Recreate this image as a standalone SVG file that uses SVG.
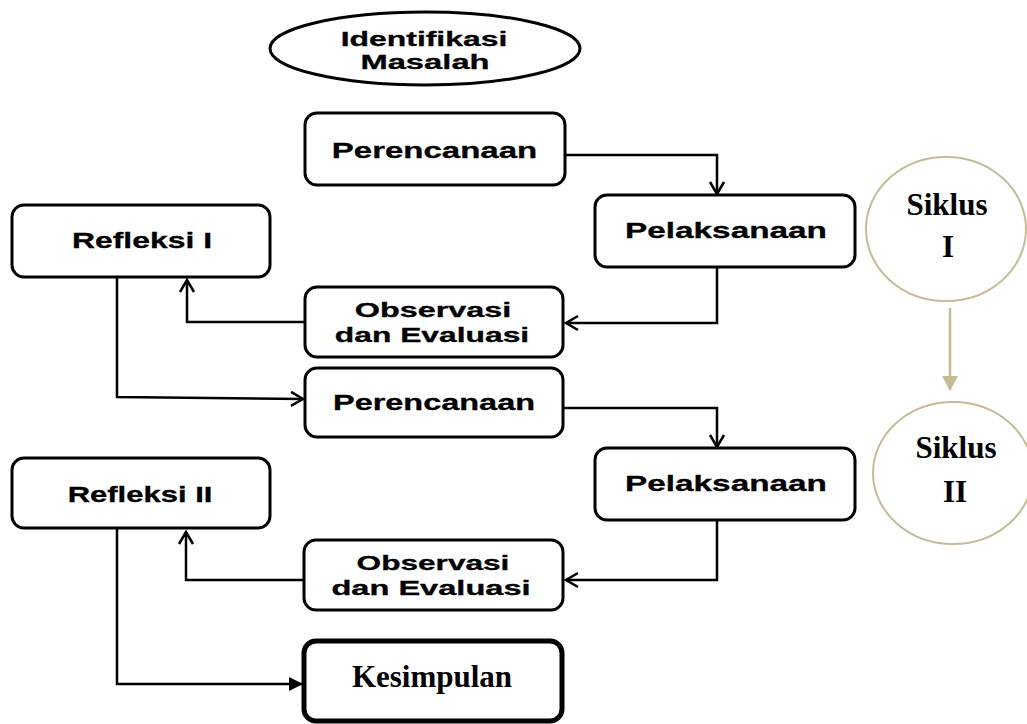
<svg xmlns="http://www.w3.org/2000/svg" width="1027" height="724" viewBox="0 0 1027 724">
<style>
.box{fill:#fff;stroke:#000;stroke-width:3}
.bold{stroke-width:5}
.t{font-family:"Liberation Sans",Arial,sans-serif;font-weight:bold;font-size:22px;fill:#000;stroke:#000;stroke-width:0.3;text-anchor:middle}
.s{font-size:20px}
.m{font-size:21px}
.tt{font-family:"Liberation Serif","Times New Roman",serif;font-weight:bold;font-size:31px;fill:#000;text-anchor:middle}
.c{fill:none;stroke:#000;stroke-width:2.5}
.cyc{fill:#fff;stroke:#c6bb97;stroke-width:2}
</style>
<defs>
<marker id="open" markerUnits="userSpaceOnUse" markerWidth="16" markerHeight="18" refX="13" refY="8" orient="auto" viewBox="0 0 16 16">
<path d="M1,1 L13,8 L1,15" fill="none" stroke="#000" stroke-width="2.5"/>
</marker>
<marker id="solid" markerUnits="userSpaceOnUse" markerWidth="14" markerHeight="16" refX="13" refY="8" orient="auto" viewBox="0 0 14 16">
<path d="M0,1 L14,8 L0,15 Z" fill="#000"/>
</marker>
<marker id="tan" markerUnits="userSpaceOnUse" markerWidth="16" markerHeight="18" refX="14" refY="9" orient="auto" viewBox="0 0 16 18">
<path d="M0,1 L15,9 L0,17 Z" fill="#c6bb97"/>
</marker>
</defs>

<g id="connectors">
<polyline class="c" points="565,155 717,155 717,194" marker-end="url(#open)"/>
<polyline class="c" points="717,267 717,323 566,323" marker-end="url(#open)"/>
<polyline class="c" points="305,322 187,322 187,280" marker-end="url(#open)"/>
<polyline class="c" points="117,277 117,397 303,399" marker-end="url(#open)"/>
<polyline class="c" points="563,408 717,408 717,447" marker-end="url(#open)"/>
<polyline class="c" points="717,520 717,580 566,580" marker-end="url(#open)"/>
<polyline class="c" points="305,580 186,580 186,532" marker-end="url(#open)"/>
<polyline class="c" points="117,528 117,684 302,684" marker-end="url(#solid)"/>
<line x1="950" y1="308" x2="950" y2="390" stroke="#c6bb97" stroke-width="2.5" marker-end="url(#tan)"/>
</g>

<g id="identifikasi">
<ellipse class="box" cx="425" cy="48.5" rx="155" ry="36.5"/>
<text class="t m" transform="translate(424,46) scale(1.52,1)">Identifikasi</text>
<text class="t m" transform="translate(425,69) scale(1.56,1)">Masalah</text>
</g>

<g id="perencanaan1">
<rect class="box" x="305" y="113" width="260" height="72" rx="12"/>
<text class="t" transform="translate(434.5,158) scale(1.5,1)">Perencanaan</text>
</g>

<g id="pelaksanaan1">
<rect class="box" x="595" y="195" width="260" height="72" rx="12"/>
<text class="t" transform="translate(726,238) scale(1.515,1)">Pelaksanaan</text>
</g>

<g id="refleksi1">
<rect class="box" x="12" y="205" width="258" height="72" rx="12"/>
<text class="t" transform="translate(142,248) scale(1.45,1)">Refleksi I</text>
</g>

<g id="observasi1">
<rect class="box" x="305" y="287" width="258" height="70" rx="12"/>
<text class="t s" transform="translate(433,317) scale(1.62,1)">Observasi</text>
<text class="t s" transform="translate(432,342) scale(1.59,1)">dan Evaluasi</text>
</g>

<g id="perencanaan2">
<rect class="box" x="305" y="368" width="258" height="69" rx="12"/>
<text class="t" transform="translate(434,410) scale(1.475,1)">Perencanaan</text>
</g>

<g id="pelaksanaan2">
<rect class="box" x="595" y="448" width="260" height="72" rx="12"/>
<text class="t" transform="translate(726,491) scale(1.515,1)">Pelaksanaan</text>
</g>

<g id="refleksi2">
<rect class="box" x="12" y="458" width="258" height="70" rx="12"/>
<text class="t" transform="translate(140,502) scale(1.41,1)">Refleksi II</text>
</g>

<g id="observasi2">
<rect class="box" x="304" y="540" width="259" height="70" rx="12"/>
<text class="t s" transform="translate(433,570) scale(1.58,1)">Observasi</text>
<text class="t s" transform="translate(431,595) scale(1.63,1)">dan Evaluasi</text>
</g>

<g id="kesimpulan">
<rect class="box bold" x="304" y="641" width="258" height="80" rx="12"/>
<text class="tt" x="432" y="687">Kesimpulan</text>
</g>

<g id="siklus1">
<ellipse class="cyc" cx="946" cy="229" rx="80" ry="72"/>
<text class="tt" x="947" y="215">Siklus</text>
<text class="tt" x="948" y="257">I</text>
</g>

<g id="siklus2">
<ellipse class="cyc" cx="953" cy="473" rx="80" ry="71"/>
<text class="tt" x="956" y="458">Siklus</text>
<text class="tt" x="955" y="502">II</text>
</g>
</svg>
